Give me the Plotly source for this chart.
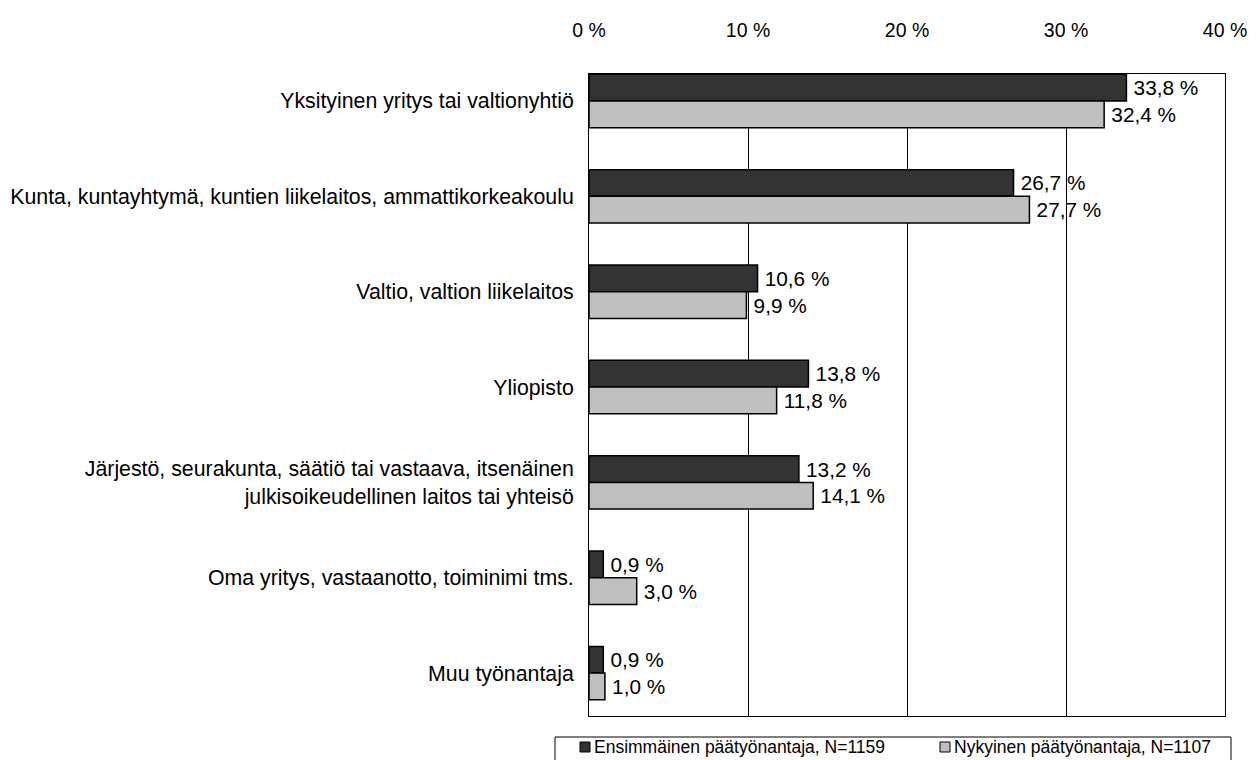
import plotly.graph_objects as go

categories = [
    "Yksityinen yritys tai valtionyhtiö",
    "Kunta, kuntayhtymä, kuntien liikelaitos, ammattikorkeakoulu",
    "Valtio, valtion liikelaitos",
    "Yliopisto",
    "Järjestö, seurakunta, säätiö tai vastaava, itsenäinen<br>julkisoikeudellinen laitos tai yhteisö",
    "Oma yritys, vastaanotto, toiminimi tms.",
    "Muu työnantaja",
]
first_employer = [33.8, 26.7, 10.6, 13.8, 13.2, 0.9, 0.9]
current_employer = [32.4, 27.7, 9.9, 11.8, 14.1, 3.0, 1.0]
series_names = ["Ensimmäinen päätyönantaja, N=1159", "Nykyinen päätyönantaja, N=1107"]
series_colors = ["#333333", "#c0c0c0"]
x_ticks = [0, 10, 20, 30, 40]

FONT = "Liberation Sans, Arial, sans-serif"
W, H = 1260, 760
L, R, T, B = 589, 35, 74, 44
PW, PH = W - L - R, H - T - B
pos = list(range(len(categories)))


def fmt(v):
    return f"{v:.1f}".replace(".", ",") + " %"


def px_x(px):
    return (px - L) / PW


def px_y(py):
    return (H - B - py) / PH


fig = go.Figure()
for name, vals, col, off in [
    (series_names[0], first_employer, series_colors[0], -0.28),
    (series_names[1], current_employer, series_colors[1], 0.0),
]:
    fig.add_trace(go.Bar(
        y=pos, x=vals, orientation="h", name=name,
        width=0.28, offset=off,
        marker=dict(color=col, line=dict(color="#000000", width=1.5)),
        text=["\u2009" + fmt(v) for v in vals], textposition="outside",
        textfont=dict(size=20.8, color="#000000", family=FONT), cliponaxis=False,
        showlegend=False,
    ))

# Legend drawn as a bordered box below the plot
shapes = [dict(type="rect", xref="paper", yref="paper",
               x0=px_x(555), x1=px_x(1231), y0=px_y(737), y1=px_y(775),
               line=dict(color="#000000", width=1), fillcolor="white", layer="above")]
annotations = []
for i, (name, col) in enumerate(zip(series_names, series_colors)):
    mx = [580, 940][i]
    shapes.append(dict(type="rect", xref="paper", yref="paper",
                       x0=px_x(mx), x1=px_x(mx + 10), y0=px_y(742), y1=px_y(752),
                       line=dict(color="#000000", width=1), fillcolor=col, layer="above"))
    annotations.append(dict(xref="paper", yref="paper", x=px_x(mx + 12), y=px_y(747),
                            xanchor="left", yanchor="middle", showarrow=False,
                            text=name, font=dict(size=17.5, family=FONT, color="#000000")))

fig.update_layout(
    width=W, height=H,
    margin=dict(l=L, r=R, t=T, b=B, autoexpand=False),
    paper_bgcolor="white", plot_bgcolor="white",
    font=dict(family=FONT, size=19.5, color="#000000"),
    barmode="overlay",
    showlegend=False,
    shapes=shapes, annotations=annotations,
    xaxis=dict(
        side="top", range=[0, 40], tickvals=x_ticks,
        ticktext=[f"{t} %" for t in x_ticks],
        showgrid=True, gridcolor="#000000", gridwidth=1,
        showline=True, linecolor="#000000", linewidth=1, mirror=True,
        ticks="", zeroline=False, ticklabelstandoff=28,
        tickfont=dict(size=19.5, family=FONT),
    ),
    yaxis=dict(
        range=[6.45, -0.283], tickvals=pos, ticktext=categories,
        showgrid=False, zeroline=False, ticks="",
        showline=True, linecolor="#000000", linewidth=1, mirror=True,
        tickfont=dict(size=21.3, family=FONT), ticklabelstandoff=10,
    ),
)

fig.write_html("out.html", config={"displayModeBar": False},
               post_script="document.body.style.margin='0';")
